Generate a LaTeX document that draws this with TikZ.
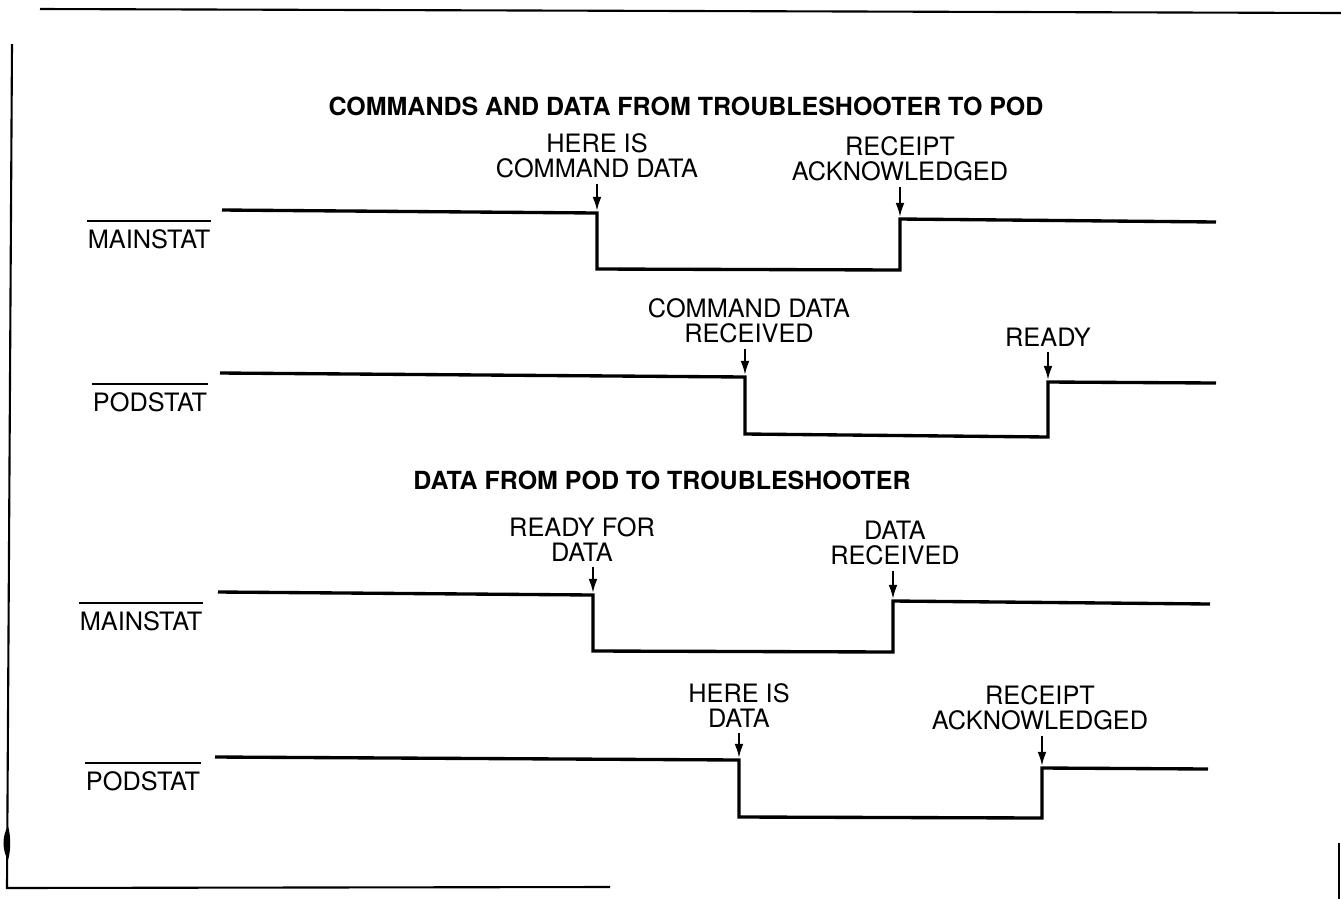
\documentclass[tikz,border=0pt]{standalone}
\usepackage{fontspec}
\setmainfont{TeX Gyre Heros}
\usetikzlibrary{arrows.meta}

\begin{document}
\begin{tikzpicture}[x=0.01cm, y=-0.01cm,
  >={Latex[length=4pt,width=2.5pt]},
  sig/.style={line width=0.95pt, line join=miter},
  frm/.style={line width=0.6pt},
  ttl/.style={font=\bfseries\fontsize{7.1}{8}\selectfont, inner sep=0pt},
  lbl/.style={font=\fontsize{7.2}{7.2}\selectfont, align=center, anchor=south,
    inner sep=0pt, outer sep=1.6pt},
  nm/.style={font=\fontsize{7.2}{8}\selectfont, anchor=base,
    inner xsep=0pt, inner ysep=2.2pt},
  bar/.style={line width=0.5pt},
  tip/.style={->, line width=0.6pt}]
\useasboundingbox (0,0) rectangle (1341,899);
% frame
\draw[frm] (40,9) -- (1341,13);
\draw[frm] (12,44) -- (7,888) -- (610,887);
\fill (8,826) .. controls (2,836) and (2,850) .. (8,860)
  .. controls (11,850) and (11,836) .. (8,826);
\draw[frm] (1339,843) -- (1339,899);
% (a) commands and data, MAINSTAT
\node[ttl] (t1) at (686,106) {COMMANDS AND DATA FROM TROUBLESHOOTER TO POD};
\node[nm] (n1) at (149,248) {MAINSTAT};
\draw[bar] (n1.north west) -- (n1.north east);
\draw[sig] (222,210) -- (597,213) -- (597,269) -- (900,270) -- (900,219) -- (1216,222);
\coordinate (a1) at (597,211);
\coordinate (a2) at (900,217);
\node[lbl] (h1) at (597,184) {HERE IS\\COMMAND DATA};
\node[lbl] (h2) at (900,187) {RECEIPT\\ACKNOWLEDGED};
\draw[tip] (h1) -- (a1);
\draw[tip] (h2) -- (a2);
% (b) commands and data, PODSTAT
\node[nm] (n2) at (150,411) {PODSTAT};
\draw[bar] (n2.north west) -- (n2.north east);
\draw[sig] (220,373) -- (745,377) -- (745,434) -- (1048,437) -- (1048,382) -- (1216,383);
\coordinate (b1) at (745,375);
\coordinate (b2) at (1048,380);
\node[lbl] (r1) at (749,349) {COMMAND DATA\\RECEIVED};
\node[lbl] (r2) at (1048,352) {READY};
\draw[tip] (r1.south -| b1) -- (b1);
\draw[tip] (r2) -- (b2);
% (c) data from pod, MAINSTAT
\node[ttl] (t2) at (662,480) {DATA FROM POD TO TROUBLESHOOTER};
\node[nm] (n3) at (141,630) {MAINSTAT};
\draw[bar] (n3.north west) -- (n3.north east);
\draw[sig] (218,592) -- (593,595) -- (593,651) -- (893,652) -- (893,601) -- (1210,604);
\coordinate (c1) at (593,593);
\coordinate (c2) at (893,599);
\node[lbl] (d1) at (582,567) {READY FOR\\DATA};
\node[lbl] (d2) at (895,571) {DATA\\RECEIVED};
\draw[tip] (d1.south -| c1) -- (c1);
\draw[tip] (d2.south -| c2) -- (c2);
% (d) data from pod, PODSTAT
\node[nm] (n4) at (143,790) {PODSTAT};
\draw[bar] (n4.north west) -- (n4.north east);
\draw[sig] (215,757) -- (739,760) -- (739,817) -- (1042,818) -- (1042,768) -- (1208,769);
\coordinate (e1) at (739,758);
\coordinate (e2) at (1042,766);
\node[lbl] (g1) at (739,733) {HERE IS\\DATA};
\node[lbl] (g2) at (1040,736) {RECEIPT\\ACKNOWLEDGED};
\draw[tip] (g1) -- (e1);
\draw[tip] (g2.south -| e2) -- (e2);
\end{tikzpicture}
\end{document}
